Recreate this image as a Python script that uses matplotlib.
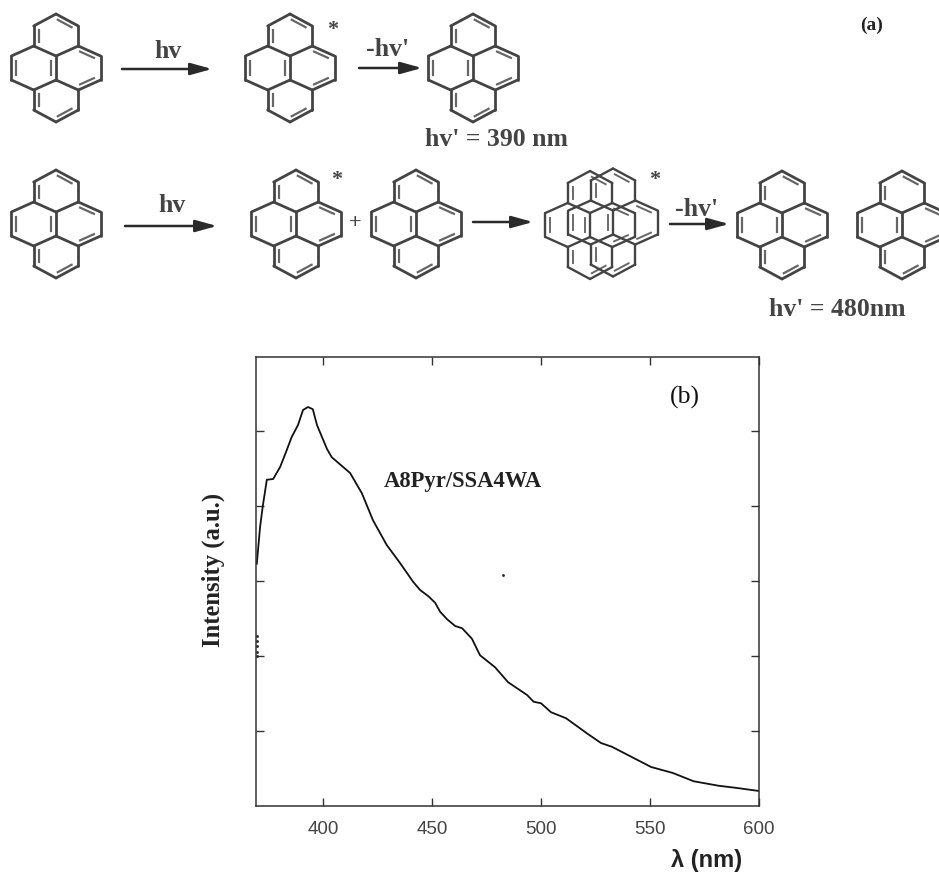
import numpy as np
import matplotlib
matplotlib.use('Agg')
import matplotlib.pyplot as plt

# --- Spectrum ---
wavelength = [369.6, 371.1, 372.3, 374.2, 377.1, 380.3, 383.0, 385.6, 388.5, 390.8, 393.1, 395.3,
              397.2, 399.5, 401.8, 404.0, 408.0, 412.4, 417.8, 422.9, 429.2, 435.3, 441.3, 444.5,
              448.2, 451.4, 453.7, 456.9, 460.6, 463.8, 468.3, 472.0, 478.9, 484.9, 493.6, 496.6,
              500.0, 504.6, 511.5, 521.0, 527.5, 532.5, 542.5, 550.5, 560.5, 570.0, 581.5, 590.0, 600.0]
intensity = [3.23, 3.72, 3.99, 4.35, 4.36, 4.52, 4.72, 4.92, 5.08, 5.28, 5.32, 5.29,
             5.08, 4.92, 4.76, 4.65, 4.55, 4.44, 4.17, 3.81, 3.48, 3.24, 2.99, 2.88,
             2.80, 2.71, 2.59, 2.49, 2.40, 2.37, 2.23, 2.01, 1.85, 1.65, 1.48, 1.39,
             1.37, 1.25, 1.17, 0.97, 0.84, 0.79, 0.64, 0.52, 0.44, 0.33, 0.27, 0.24, 0.20]
stray_x = [369.8, 369.8, 369.7, 369.8, 369.6, 482.4]
stray_y = [2.27, 2.20, 2.13, 2.06, 2.00, 3.08]

x_ticks = [400, 450, 500, 550, 600]
y_ticks = [1, 2, 3, 4, 5]

# --- Scheme layout (figure pixels) ---
W, H = 939, 873
row1_molecules = [(56, 68), (290, 68), (473, 68)]
row2_molecules = [(56, 224), (296, 224), (416, 224), (782, 225), (902, 225)]
dimer_molecules = [(590, 225), (613, 222.5)]
arrows = [(122, 69, 212), (359, 68, 422), (125, 226, 217), (473, 222, 533), (670, 224, 729)]
INK = '#444444'

u = 22.3
verts = {'t': (0, -54), 'ur': (u, -42), 'r1': (u, -22), 'c1': (0, -12), 'e1': (2*u, -12), 'e2': (2*u, 12),
         'c2': (0, 12), 'r2': (u, 22), 'br': (u, 42), 'b': (0, 54), 'bl': (-u, 42), 'l2': (-u, 22),
         'w2': (-2*u, 12), 'w1': (-2*u, -12), 'l1': (-u, -22), 'ul': (-u, -42)}
bonds = [('t', 'ur'), ('ur', 'r1'), ('r1', 'e1'), ('e1', 'e2'), ('e2', 'r2'), ('r2', 'br'), ('br', 'b'),
         ('b', 'bl'), ('bl', 'l2'), ('l2', 'w2'), ('w2', 'w1'), ('w1', 'l1'), ('l1', 'ul'), ('ul', 't'),
         ('r1', 'c1'), ('l1', 'c1'), ('c1', 'c2'), ('c2', 'r2'), ('c2', 'l2')]
# second line of a double bond, with the ring it leans into
doubles = [('t', 'ur', (0, -32)), ('ul', 'l1', (0, -32)), ('r1', 'e1', (u, 0)), ('e2', 'r2', (u, 0)),
           ('c1', 'c2', (-u, 0)), ('w1', 'w2', (-u, 0)), ('l2', 'bl', (0, 32)), ('b', 'br', (0, 32))]


def draw_pyrene(ax, cx, cy, lw=2.0):
    for a, b in bonds:
        xa, ya = verts[a]
        xb, yb = verts[b]
        ax.plot([cx + xa, cx + xb], [cy + ya, cy + yb], color=INK, lw=lw, solid_capstyle='round')
    for a, b, ring in doubles:
        pa, pb, pr = np.array(verts[a]), np.array(verts[b]), np.array(ring)
        qa = pa + (pr - pa) * 0.22 + (pb - pa) * 0.08
        qb = pb + (pr - pb) * 0.22 + (pa - pb) * 0.08
        ax.plot([cx + qa[0], cx + qb[0]], [cy + qa[1], cy + qb[1]], color='#666666', lw=lw * 0.8)


fig = plt.figure(figsize=(W / 100, H / 100), dpi=100, facecolor='white')

# --- Scheme (a) ---
ax_scheme = fig.add_axes([0, 0, 1, 1])
ax_scheme.set_xlim(0, W)
ax_scheme.set_ylim(H, 0)
ax_scheme.axis('off')

for cx, cy in row1_molecules + row2_molecules:
    draw_pyrene(ax_scheme, cx, cy)
for cx, cy in dimer_molecules:
    draw_pyrene(ax_scheme, cx, cy, lw=1.7)

for x0, y0, x1 in arrows:
    ax_scheme.annotate('', xy=(x1, y0), xytext=(x0, y0),
                       arrowprops=dict(arrowstyle='-|>,head_length=1.3,head_width=0.36', color='#2a2a2a', lw=1.8,
                                       shrinkA=0, shrinkB=0))

serif = 'Liberation Serif'
scheme_text = [(168, 51, 'hv', 18.5), (388, 50, "-hv'", 18.5), (172, 206, 'hv', 18.5), (697, 210, "-hv'", 18.5),
               (355, 223, '+', 16), (333, 30, '*', 16), (337, 180, '*', 16), (655, 180, '*', 16),
               (496, 140, "hv' = 390 nm", 18.5), (837, 309, "hv' = 480nm", 18.5)]
for tx, ty, label, size in scheme_text:
    ax_scheme.text(tx, ty, label, family=serif, fontsize=size, fontweight='bold', color=INK,
                   ha='center', va='center')
ax_scheme.text(872, 25, '(a)', family=serif, fontsize=14, fontweight='bold', color='#222222',
               ha='center', va='center')

# --- Spectrum (b) ---
left, right, top, bottom = 255.5, 759, 357, 806
ax = fig.add_axes([left / W, 1 - bottom / H, (right - left) / W, (bottom - top) / H])
ax.patch.set_alpha(0)
ax.plot(wavelength, intensity, color='#111111', lw=1.3)
ax.plot(stray_x, stray_y, ls='none', marker='s', ms=0.9, color='#222222')
ax.set_xlim(369, 600)
ax.set_ylim(0, 449 / 75)
ax.set_xticks(x_ticks)
ax.set_yticks(y_ticks)
ax.set_yticklabels([])
ax.tick_params(axis='both', direction='in', top=True, right=True, length=5.5, width=1, color='#333333',
               labelsize=13.5, labelcolor='#444444', pad=11)
for label in ax.get_xticklabels():
    label.set_family('Liberation Sans')
for spine in ax.spines.values():
    spine.set_linewidth(1.1)
    spine.set_color('#333333')

ax_scheme.text(685, 397, '(b)', family=serif, fontsize=18.5, color='#111111', ha='center', va='center')
ax_scheme.text(463, 481, 'A8Pyr/SSA4WA', family=serif, fontsize=16.3, fontweight='bold', color='#222222',
               ha='center', va='center')
ax_scheme.text(213, 570, 'Intensity (a.u.)', family=serif, fontsize=17.7, fontweight='bold', color='#222222',
               rotation=90, ha='center', va='center')
ax_scheme.text(707, 861, 'λ (nm)', family=['Liberation Sans', 'DejaVu Sans'], fontsize=17, fontweight='bold',
               color='#222222', ha='center', va='center')

fig.savefig('out.png', dpi=100)
